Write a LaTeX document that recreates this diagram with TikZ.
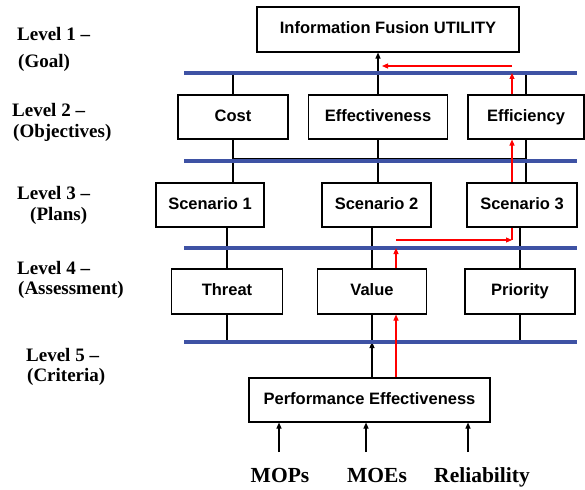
\documentclass[tikz,border=0pt]{standalone}
\usepackage{fontspec}
\setmainfont{Liberation Serif}
\setsansfont{Liberation Sans}
\usetikzlibrary{arrows.meta}
\definecolor{busblue}{RGB}{62,82,164}

\begin{document}
\begin{tikzpicture}[x=1pt,y=-1pt,
  box/.style={draw,line width=1.1pt,minimum height=44pt,inner sep=0pt,
    text height=12pt,text depth=3.5pt,
    font=\sffamily\bfseries\fontsize{16.5}{18}\selectfont},
  lvl/.style={anchor=base west,inner sep=0pt,font=\bfseries\fontsize{19}{21}\selectfont},
  src/.style={anchor=base,inner sep=0pt,font=\bfseries\fontsize{21.5}{23}\selectfont},
  bus/.style={busblue,line width=3.4pt},
  link/.style={line width=1.1pt},
  up/.style={line width=1.1pt,-{Triangle[length=6pt,width=5pt]}},
  flow/.style={red,line width=1.1pt,-{Triangle[length=6pt,width=5pt]}}]
\useasboundingbox (0,0) rectangle (585,489);

% level names on the left
\node[lvl] (lvlone) at (17,41) {Level 1 --};
\node[lvl] (goal) at (18,68) {(Goal)};
\node[lvl] (lvltwo) at (12,117) {Level 2 --};
\node[lvl] (objectives) at (13,138) {(Objectives)};
\node[lvl] (lvlthree) at (17,199) {Level 3 --};
\node[lvl] (plans) at (30,220) {(Plans)};
\node[lvl] (lvlfour) at (17,274) {Level 4 --};
\node[lvl] (assessment) at (18,294) {(Assessment)};
\node[lvl] (lvlfive) at (26,361) {Level 5 --};
\node[lvl] (criteria) at (27,381) {(Criteria)};

% boxes
\node[box,minimum width=262pt,minimum height=45pt] (utility) at (388,29.5) {Information Fusion UTILITY};
\node[box,minimum width=110pt] (cost) at (233,117) {Cost};
\node[box,minimum width=139pt] (effect) at (378,117) {Effectiveness};
\node[box,minimum width=116pt] (effic) at (526,117) {Efficiency};
\node[box,minimum width=108pt] (scenone) at (210,205) {Scenario 1};
\node[box,minimum width=109pt] (scentwo) at (376.5,205) {Scenario 2};
\node[box,minimum width=110pt] (scenthree) at (522,205) {Scenario 3};
\node[box,minimum width=111pt,minimum height=45pt] (threat) at (227,291.5) {Threat};
\node[box,minimum width=109pt,minimum height=45pt] (value) at (372,291.5) {Value};
\node[box,minimum width=110pt,minimum height=45pt] (priority) at (520,291.5) {Priority};
\node[box,minimum width=241pt] (perf) at (369.5,400) {Performance Effectiveness};

% inputs
\node[src] (mops) at (280,482) {MOPs};
\node[src] (moes) at (377,482) {MOEs};
\node[src] (reliab) at (482,482) {Reliability};
\coordinate (inone) at (279,452);
\coordinate (intwo) at (366,452);
\coordinate (inthree) at (468,452);

% blue level lines
\coordinate (bonew) at (184,73);  \coordinate (bonee) at (577,73);
\coordinate (btwow) at (184,161); \coordinate (btwoe) at (577,161);
\coordinate (bthrw) at (184,248); \coordinate (bthre) at (577,248);
\coordinate (bfouw) at (184,342); \coordinate (bfoue) at (577,342);
\coordinate (btie) at (0,158.5);

% black links
\draw[link] (cost.north) -- (cost.north |- bonew);
\draw[link] (effic.north) -- (effic.north |- bonew);
\draw[up] (effect.north) -- (effect.north |- utility.south);
\draw[link] (cost.south) -- (cost.south |- scenone.north);
\draw[link] (effect.south) -- (effect.south |- scentwo.north);
\draw[link] (effic.south) -- (effic.south |- scenthree.north);
\draw[link] (cost.south |- btie) -- (effic.south |- btie);
\draw[link] (threat.north |- scenone.south) -- (threat.north);
\draw[link] (value.north |- scentwo.south) -- (value.north);
\draw[link] (priority.north |- scenthree.south) -- (priority.north);
\draw[link] (threat.south) -- (threat.south |- bfouw);
\draw[link] (value.south) -- (value.south |- bfouw);
\draw[link] (priority.south) -- (priority.south |- bfouw);
\draw[up] (perf.north -| value.south) -- (value.south |- bfouw);
\draw[up] (inone) -- (inone |- perf.south);
\draw[up] (intwo) -- (intwo |- perf.south);
\draw[up] (inthree) -- (inthree |- perf.south);

\draw[bus] (bonew) -- (bonee);
\draw[bus] (btwow) -- (btwoe);
\draw[bus] (bthrw) -- (bthre);
\draw[bus] (bfouw) -- (bfoue);

% red path
\coordinate (rtop) at (512,66);
\coordinate (rleft) at (382,66);
\coordinate (rmid) at (512,240);
\coordinate (rbeg) at (396,240);
\draw[flow] (perf.north -| rbeg) -- (value.south -| rbeg);
\draw[flow] (value.north -| rbeg) -- (rbeg |- bthrw);
\draw[flow] (rbeg) -- (rmid);
\draw[red,line width=1.1pt] (rmid) -- (scenthree.south -| rmid);
\draw[flow] (scenthree.north -| rmid) -- (effic.south -| rmid);
\draw[flow] (effic.north -| rmid) -- (rmid |- bonee);
\draw[flow] (rtop) -- (rleft);
\end{tikzpicture}
\end{document}
